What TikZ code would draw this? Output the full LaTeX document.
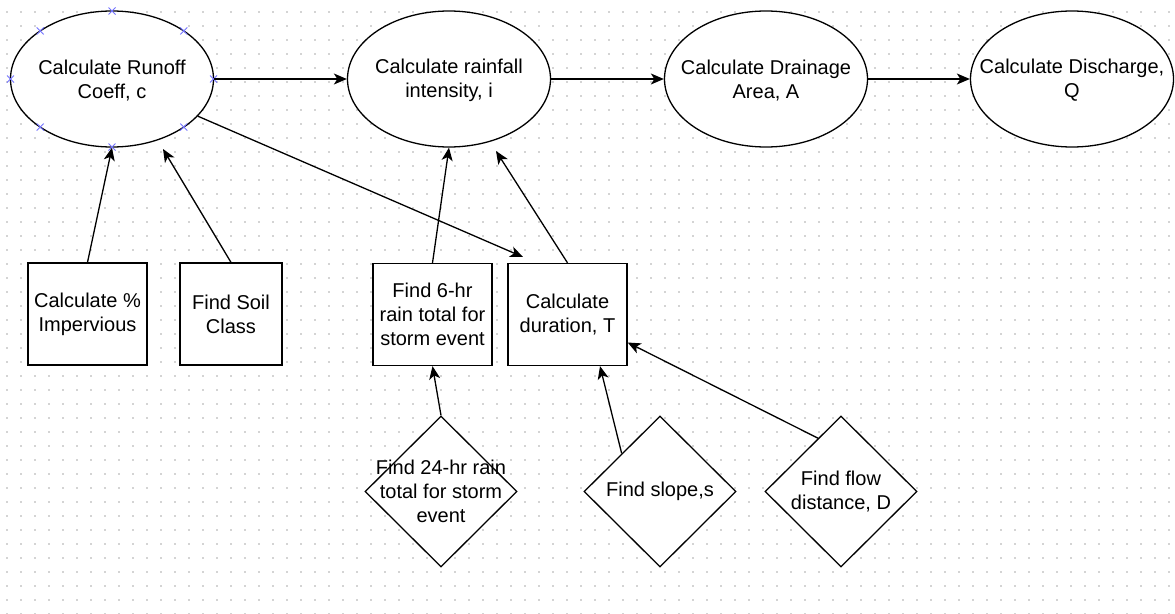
\documentclass[tikz,border=0pt]{standalone}
\usepackage{fontspec}
\setmainfont{Liberation Sans}
\usetikzlibrary{shapes.geometric,arrows.meta,calc}
\begin{document}
\begin{tikzpicture}[x=1pt,y=-1pt,
  shp/.style={draw=black, fill=white, line width=1.3pt, inner sep=0pt},
  oval/.style={shp, ellipse, minimum width=203pt, minimum height=136pt},
  box/.style={shp, rectangle, minimum width=119pt, minimum height=102pt, align=center, font=\fontsize{20}{24}\selectfont},
  dia/.style={shp, diamond, minimum width=152pt, minimum height=151pt},
  txt/.style={align=center, inner sep=0pt, font=\fontsize{20}{24}\selectfont},
  arr/.style={line width=1.3pt, -{Stealth[length=13pt,width=11pt,inset=3.5pt]}},
  mk/.style={draw=blue!55, line width=0.9pt},
  griddot/.style={draw=black!17, line width=1.4pt, dash pattern=on 1.4pt off 12.6pt}
]
\useasboundingbox (0,0) rectangle (1175,613);
\fill[white] (0,0) rectangle (1175,613);
\foreach \r in {0,...,43} {
  \draw[griddot] (6.3,{12+14*\r}) -- (1175,{12+14*\r});
}

% top row
\node[oval] (e1) at (112,79) {};
\node[txt] (t1) at ([yshift=-1.5pt]e1) {Calculate Runoff\\Coeff, c};
\node[oval] (e2) at (449,79) {};
\node[txt] (t2) at ([yshift=-1.5pt]e2) {Calculate rainfall\\intensity, i};
\node[oval] (e3) at (766,79) {};
\node[txt] (t3) at ([yshift=-1.5pt]e3) {Calculate Drainage\\Area, A};
\node[oval] (e4) at (1072,79) {};
\node[txt] (t4) at ([yshift=-1.5pt]e4) {Calculate Discharge,\\Q};

% selection markers
\foreach \a in {0,45,...,315} {
  \draw[mk] ($(e1.center)+({101.5*cos(\a)},{68*sin(\a)})$) ++(-3.5,-3.5) -- ++(7,7) ++(-7,0) -- ++(7,-7);
}

% boxes
\node[box] (b1) at (87.5,314) {Calculate \%\\Impervious};
\node[box, minimum width=102pt] (b2) at (231,314) {Find Soil\\Class};
\node[box] (b3) at (432.5,314.5) {Find 6-hr\\rain total for\\storm event};
\node[box] (b4) at (567.5,314.5) {Calculate\\duration, T};

% diamonds
\node[dia] (d1) at (441,491.5) {};
\node[txt] (t5) at (d1) {Find 24-hr rain\\total for storm\\event};
\node[dia] (d2) at (660,491.5) {};
\node[txt] (t6) at (d2) {Find slope,s};
\node[dia] (d3) at (841,491.5) {};
\node[txt] (t7) at (d3) {Find flow\\distance, D};

% free ends
\coordinate (c2) at (163,149);
\coordinate (c3) at (523,257);
\coordinate (c5) at (496,151);

% connectors
\draw[arr] (e1) -- (e2);
\draw[arr] (e2) -- (e3);
\draw[arr] (e3) -- (e4);
\draw[arr] (b1.north) -- (e1.south);
\draw[arr] (b2.north) -- (c2);
\draw[arr] (e1) -- (c3);
\draw[arr] (b3.north) -- (e2.south);
\draw[arr] (b4.north) -- (c5);
\draw[arr] (d1.north) -- (b3.south);
\draw[arr] (d2.north west) -- ([xshift=32.5pt]b4.south);
\draw[arr] ($(d3.west)!0.7!(d3.north)$) -- ([yshift=-28pt]b4.east);
\end{tikzpicture}
\end{document}
